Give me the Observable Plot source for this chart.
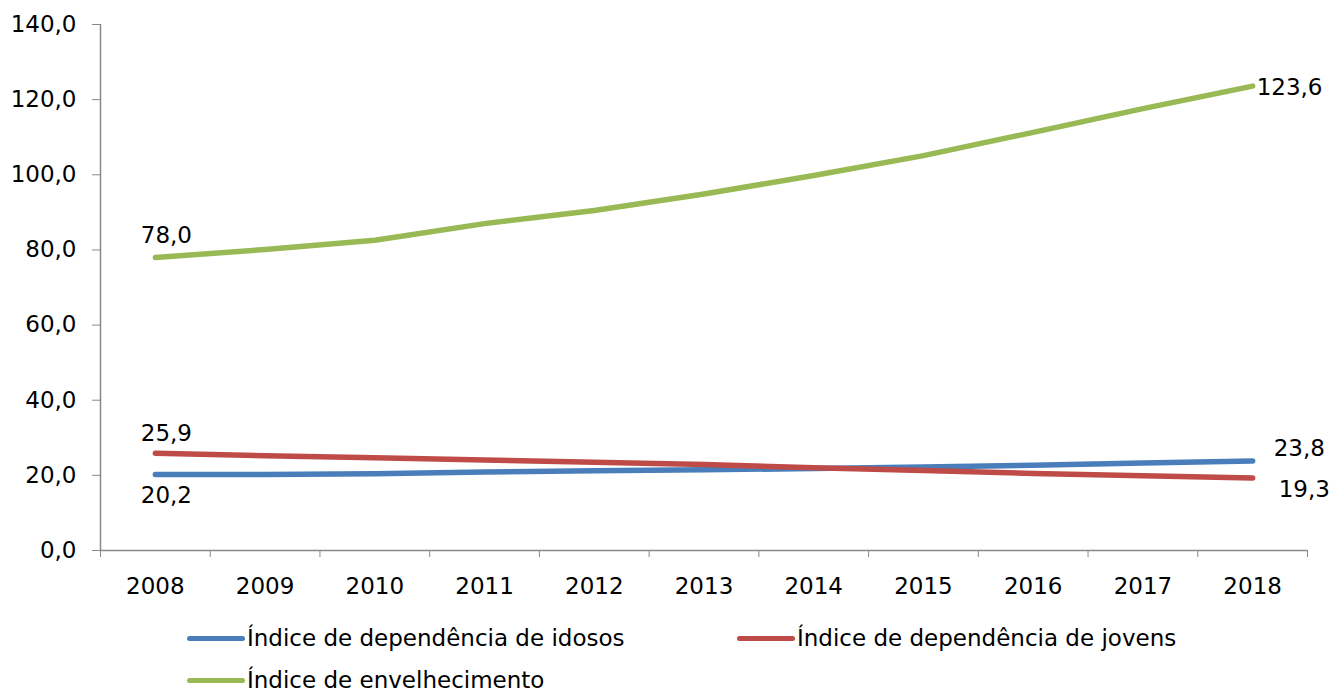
<!DOCTYPE html>
<html>
<head>
<meta charset="utf-8">
<script src="https://cdn.jsdelivr.net/npm/d3@7"></script>
<script src="https://cdn.jsdelivr.net/npm/@observablehq/plot@0.6"></script>
<style>
  body { margin: 0; background: #fff; font-family: "DejaVu Sans", sans-serif; }
  #wrap { position: relative; width: 1330px; height: 691px; }
  .leg { position: absolute; display: flex; align-items: center; font-size: 23px; color: #000; white-space: nowrap; }
  .sw { width: 58px; height: 5px; border-radius: 3px; margin-right: 2px; }
</style>
</head>
<body>
<div id="wrap"></div>
<script>
const years = [2008, 2009, 2010, 2011, 2012, 2013, 2014, 2015, 2016, 2017, 2018];
const idosos = [20.2, 20.2, 20.4, 20.9, 21.2, 21.5, 21.8, 22.2, 22.7, 23.3, 23.8];
const jovens = [25.9, 25.2, 24.7, 24.1, 23.5, 22.9, 22.0, 21.3, 20.5, 19.9, 19.3];
const envelhecimento = [78.0, 80.1, 82.6, 87.0, 90.5, 94.9, 99.8, 105.1, 111.3, 117.6, 123.6];
const seriesNames = ["Índice de dependência de idosos", "Índice de dependência de jovens", "Índice de envelhecimento"];
const colors = ["#4a7ebb", "#be4b48", "#98b954"];
const yTicks = [0, 20, 40, 60, 80, 100, 120, 140];

const fmt = d => d.toFixed(1).replace(".", ",");
const rows = [];
[idosos, jovens, envelhecimento].forEach((arr, i) => {
  arr.forEach((v, j) => rows.push({year: years[j], value: v, series: seriesNames[i]}));
});
const boundaries = years.map(y => y - 0.5).concat([years[years.length - 1] + 0.5]);

const first = j => ({year: years[0], value: j});
const last = j => ({year: years[years.length - 1], value: j});

const labelStyle = {fontSize: 23, fill: "#000", fontFamily: "DejaVu Sans"};

const chart = Plot.plot({
  width: 1330,
  height: 610,
  marginLeft: 100,
  marginRight: 23,
  marginTop: 24,
  marginBottom: 60,
  style: {fontFamily: "DejaVu Sans", fontSize: "23px", color: "#000", background: "#fff"},
  x: {domain: [years[0] - 0.5, years[years.length - 1] + 0.5]},
  y: {domain: [0, 140]},
  color: {domain: seriesNames, range: colors},
  marks: [
    Plot.ruleX([years[0] - 0.5], {stroke: "#898989", strokeWidth: 1.5}),
    Plot.ruleY([0], {stroke: "#898989", strokeWidth: 1.5}),
    Plot.axisY({ticks: yTicks, tickFormat: fmt, tickSize: 8, tickPadding: 16, stroke: "#898989", label: null, fontSize: 23}),
    Plot.axisX({ticks: boundaries, tickFormat: () => "", tickSize: 7, stroke: "#898989", label: null}),
    Plot.axisX({ticks: years, tickFormat: d => String(d), tickSize: 0, tickPadding: 27, label: null, fontSize: 23}),
    Plot.line(rows, {x: "year", y: "value", stroke: "series", strokeWidth: 5.5, strokeLinecap: "round", strokeLinejoin: "round"}),
    Plot.text([first(envelhecimento[0])], {x: "year", y: "value", text: d => fmt(d.value), dx: 11, dy: -22, ...labelStyle}),
    Plot.text([last(envelhecimento[10])], {x: "year", y: "value", text: d => fmt(d.value), textAnchor: "start", dx: 4, dy: 2, ...labelStyle}),
    Plot.text([first(jovens[0])], {x: "year", y: "value", text: d => fmt(d.value), dx: 11, dy: -20, ...labelStyle}),
    Plot.text([first(idosos[0])], {x: "year", y: "value", text: d => fmt(d.value), dx: 11, dy: 21, ...labelStyle}),
    Plot.text([last(idosos[10])], {x: "year", y: "value", text: d => fmt(d.value), textAnchor: "start", dx: 21, dy: -12, ...labelStyle}),
    Plot.text([last(jovens[10])], {x: "year", y: "value", text: d => fmt(d.value), textAnchor: "start", dx: 26, dy: 12, ...labelStyle})
  ]
});
const wrap = document.getElementById("wrap");
wrap.appendChild(chart);

const legPos = [[187, 638], [737, 638], [187, 680]];
seriesNames.forEach((name, i) => {
  const el = document.createElement("div");
  el.className = "leg";
  el.style.left = legPos[i][0] + "px";
  el.style.top = (legPos[i][1] - 14) + "px";
  el.style.height = "28px";
  const sw = document.createElement("div");
  sw.className = "sw";
  sw.style.background = colors[i];
  const tx = document.createElement("span");
  tx.textContent = name;
  el.appendChild(sw);
  el.appendChild(tx);
  wrap.appendChild(el);
});
</script>
</body>
</html>
